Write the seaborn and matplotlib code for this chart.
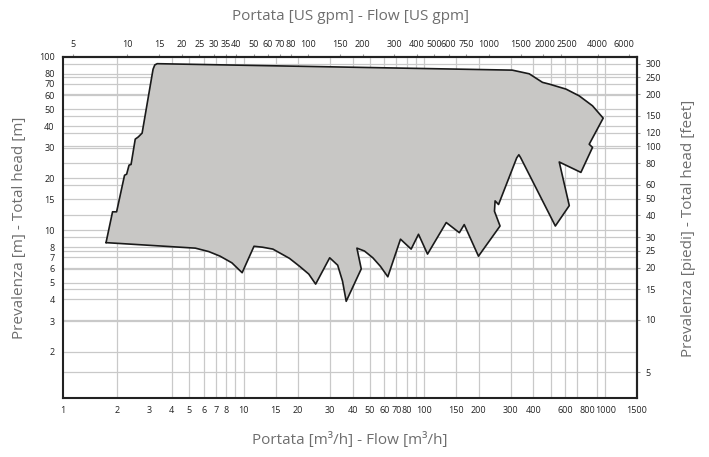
import matplotlib
matplotlib.use("Agg")
import matplotlib.pyplot as plt
import matplotlib.transforms as mtransforms
import seaborn as sns
from matplotlib.ticker import NullLocator

# pump range outline (flow m3/h, head m), clockwise from bottom-left
flow = [1.73, 1.88, 1.98, 2.19, 2.25, 2.32, 2.38, 2.51, 2.61, 2.74, 3.15, 3.22, 3.32,
        306, 380, 450, 490, 607, 718, 851, 975,
        816, 851, 734, 557, 633, 530, 341, 333, 324,
        257, 246, 244, 262, 199, 166, 156, 132, 104, 92.7, 84.4, 73.7, 62.7,
        57.1, 51.8, 46.6, 42.3, 44.7, 36.9, 35.2, 33.1, 29.9, 25.0, 22.9, 20.4,
        17.9, 14.5, 12.7, 11.4, 9.8, 8.6, 7.4, 6.4, 5.4]
head = [8.5, 12.8, 12.8, 20.8, 21.1, 23.8, 24.0, 33.6, 34.6, 36.4, 85, 90, 91.5,
        84, 80, 71.4, 69.8, 65.3, 59.7, 52.3, 44.4,
        31.4, 30.1, 21.6, 24.8, 13.9, 10.6, 26.2, 27.3, 26.2,
        14.1, 14.8, 12.9, 10.6, 7.1, 10.8, 9.7, 11.1, 7.3, 9.5, 7.8, 8.9, 5.4,
        6.2, 6.95, 7.6, 7.9, 6.0, 3.9, 5.1, 6.3, 6.95, 4.9, 5.6, 6.2,
        6.9, 7.8, 8.0, 8.1, 5.7, 6.5, 7.1, 7.55, 7.9]

# axis ticks
flow_ticks = [1, 2, 3, 4, 5, 6, 7, 8, 10, 15, 20, 30, 40, 50, 60, 70, 80, 100,
              150, 200, 300, 400, 600, 800, 1000, 1500]
head_ticks = [2, 3, 4, 5, 6, 7, 8, 10, 15, 20, 30, 40, 50, 60, 70, 80, 100]
gpm_ticks = [5, 10, 15, 20, 25, 30, 35, 40, 50, 60, 70, 80, 100, 150, 200, 300,
             400, 500, 600, 750, 1000, 1500, 2000, 2500, 4000, 6000]
feet_ticks = [5, 10, 15, 20, 25, 30, 40, 50, 60, 80, 100, 120, 150, 200, 250, 300]

# grid lines
grid_flow = [2, 4, 5, 6, 7, 8, 9, 10, 15, 20, 30, 40, 50, 60, 70, 80, 90, 100,
             150, 200, 300, 400, 500, 600, 700, 900, 1000]
grid_head = [2, 3, 4, 5, 6, 7, 8, 10, 20, 30, 40, 50, 60, 70, 80]

GPM = 4.403
FT = 3.281

sns.set_theme(style="white")
plt.rcParams['font.family'] = ['Open Sans', 'DejaVu Sans']

fig = plt.figure(figsize=(7.09, 4.57), dpi=100)
ax = fig.add_axes([63 / 709, 1 - 398 / 457, (637 - 63) / 709, (398 - 57) / 457])

for g in grid_flow:
    ax.axvline(g, color='#c9c9c9', lw=0.9, zorder=1)
for g in grid_head:
    ax.axhline(g, color='#c9c9c9', lw=0.9, zorder=1)
for g in feet_ticks:
    ax.axhline(g / FT, color='#c9c9c9', lw=0.9, zorder=1)

ax.fill(flow, head, color='#c8c7c5', zorder=2, lw=0)
sns.lineplot(x=flow + [flow[0]], y=head + [head[0]], sort=False, estimator=None,
             color='#1a1a1a', lw=1.2, ax=ax, zorder=3)

ax.set_xscale('log')
ax.set_yscale('log')
ax.set_xlim(1, 1500)
ax.set_ylim(1.08, 100)
ax.set_xticks(flow_ticks, labels=[str(t) for t in flow_ticks])
ax.set_yticks(head_ticks, labels=[str(t) for t in head_ticks])
ax.xaxis.set_minor_locator(NullLocator())
ax.yaxis.set_minor_locator(NullLocator())
ax.set_xlabel('')
ax.set_ylabel('')

tick_kw = dict(direction='out', length=2, width=0.8, color='#999999',
               labelsize=6.5, labelcolor='#222222', pad=4)
ax.tick_params(axis='both', **tick_kw)

secx = ax.secondary_xaxis('top', functions=(lambda x: x * GPM, lambda x: x / GPM))
secx.set_xticks(gpm_ticks, labels=[str(t) for t in gpm_ticks])
secx.xaxis.set_minor_locator(NullLocator())
secx.tick_params(**tick_kw)

secy = ax.secondary_yaxis('right', functions=(lambda y: y * FT, lambda y: y / FT))
secy.set_yticks(feet_ticks, labels=[str(t) for t in feet_ticks])
secy.yaxis.set_minor_locator(NullLocator())
secy.tick_params(**tick_kw)

# the crowded top labels sit a little apart in the original
nudge = {'2000': 2, '2500': 6, '6000': -6}
for lbl in secx.get_xticklabels():
    dx = nudge.get(lbl.get_text(), 0)
    if dx:
        off = mtransforms.ScaledTranslation(dx / 100, 0, fig.dpi_scale_trans)
        lbl.set_transform(lbl.get_transform() + off)

for a in (ax, secx, secy):
    for s in a.spines.values():
        s.set_color('#222222')
        s.set_linewidth(1.5)

lab = dict(color='#6e6e6e', fontsize=11, ha='center', va='center')
fig.text(350 / 709, 1 - 17 / 457, 'Portata [US gpm] - Flow [US gpm]', **lab)
fig.text(350 / 709, 1 - 440 / 457, 'Portata [m³/h] - Flow [m³/h]', **lab)
fig.text(20 / 709, 1 - 228 / 457, 'Prevalenza [m] - Total head [m]', rotation=90, **lab)
fig.text(688 / 709, 1 - 228 / 457, 'Prevalenza [piedi] - Total head [feet]', rotation=90, **lab)

fig.savefig('out.png', dpi=100)
